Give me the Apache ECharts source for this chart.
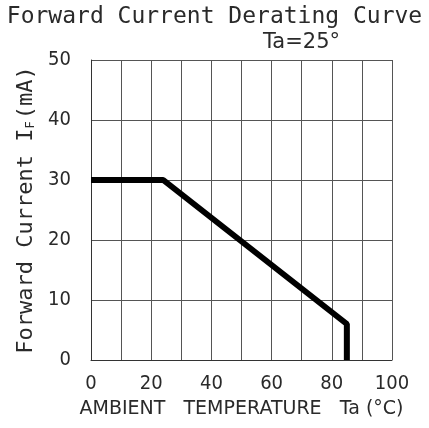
<!DOCTYPE html>
<html><head><meta charset="utf-8">
<script src="https://cdn.jsdelivr.net/npm/echarts@6/dist/echarts.min.js"></script>
<style>html,body{margin:0;padding:0;background:#fff}#c{width:429px;height:428px}</style>
</head><body><div id="c"></div>
<script>
const titleText = 'Forward Current Derating Curve';
const subText = 'Ta=25°';
const xName = 'AMBIENT   TEMPERATURE   Ta (°C)';
const xTicks = [0, 20, 40, 60, 80, 100];
const yTicks = [0, 10, 20, 30, 40, 50];
const tempC = [0, 24, 85, 85];
const currentMA = [30, 30, 6, 0];

const chart = echarts.init(document.getElementById('c'));
const txt = '#2a2a2a';
const numFont = "'DejaVu Sans Condensed', 'Liberation Sans', sans-serif";
chart.setOption({
  animation: false,
  backgroundColor: '#fff',
  title: [
    {text: titleText, left: 'center', top: 1, textStyle: {fontFamily: 'DejaVu Sans Mono', fontWeight: 'normal', fontSize: 23, color: txt}},
    {text: subText, left: 258, top: 27, textStyle: {fontFamily: 'DejaVu Sans', fontWeight: 'normal', fontSize: 21, color: txt}}
  ],
  grid: {left: 91, right: 37, top: 60, bottom: 68},
  xAxis: {
    type: 'value', min: 0, max: 100, interval: 10,
    name: xName, nameLocation: 'middle', nameGap: 40,
    nameTextStyle: {fontFamily: 'DejaVu Sans', fontSize: 19, color: txt},
    axisLine: {show: true, lineStyle: {color: '#333', width: 1}},
    axisTick: {show: false},
    axisLabel: {margin: 14, fontFamily: numFont, fontSize: 20, color: txt,
      formatter: v => (xTicks.indexOf(v) >= 0 ? String(v) : '')},
    splitLine: {show: true, lineStyle: {color: '#555', width: 1}}
  },
  yAxis: {
    type: 'value', min: 0, max: 50, interval: 10,
    name: '{a|Forward Current I}{s|F}{a|(mA)}', nameLocation: 'middle', nameGap: 52, nameRotate: 90,
    nameTextStyle: {rich: {
      a: {fontFamily: 'DejaVu Sans Mono', fontSize: 22, color: txt},
      s: {fontFamily: 'DejaVu Sans Mono', fontSize: 12, color: txt, verticalAlign: 'bottom', padding: [10, 2, 0, 0]}
    }},
    axisLine: {show: true, lineStyle: {color: '#333', width: 1}},
    axisTick: {show: false},
    axisLabel: {margin: 20, fontFamily: numFont, fontSize: 20, color: txt,
      formatter: v => (yTicks.indexOf(v) >= 0 ? String(v) : '')},
    splitLine: {show: true, lineStyle: {color: '#555', width: 1}}
  },
  series: [{
    type: 'line', data: tempC.map((t, i) => [t, currentMA[i]]),
    symbol: 'none', lineStyle: {color: '#000', width: 6}, z: 5
  }]
});
</script></body></html>
